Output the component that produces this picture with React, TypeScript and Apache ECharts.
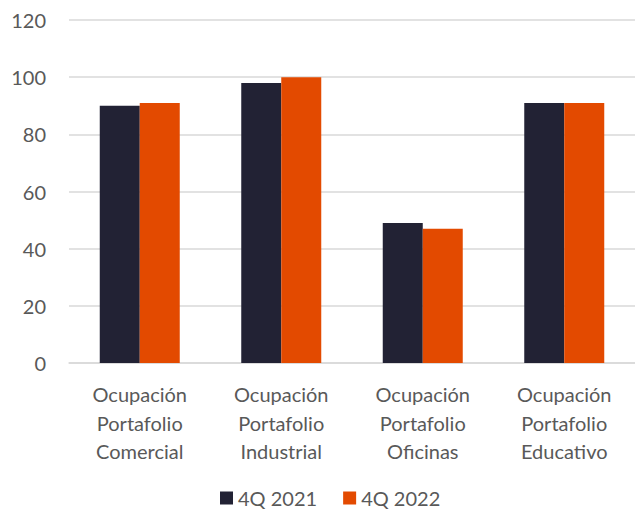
import React, { useEffect, useRef } from "react";
import * as echarts from "echarts";

const categories = [
  "Ocupación\nPortafolio\nComercial",
  "Ocupación\nPortafolio\nIndustrial",
  "Ocupación\nPortafolio\nOficinas",
  "Ocupación\nPortafolio\nEducativo",
];
const series2021 = [90, 98, 49, 91];
const series2022 = [91, 100, 47, 91];
const seriesNames = ["4Q 2021", "4Q 2022"];

export default function App() {
  const ref = useRef<HTMLDivElement>(null);
  useEffect(() => {
    document.body.style.margin = "0";
    if (!ref.current) return;
    const chart = echarts.init(ref.current, undefined, { renderer: "svg" });
    const font = "Lato, 'Open Sans', sans-serif";
    chart.setOption({
      animation: false,
      textStyle: { fontFamily: font },
      legend: {
        top: 488,
        left: 220,
        padding: 0,
        itemWidth: 13,
        itemHeight: 13,
        itemGap: 26,
        icon: "rect",
        textStyle: { fontSize: 20, lineHeight: 20, color: "#595959", fontFamily: font },
        data: seriesNames,
      },
      grid: { left: 69, right: 0, top: 20, bottom: 150 },
      xAxis: {
        type: "category",
        data: categories,
        axisLine: { show: true, lineStyle: { color: "#d9d9d9", width: 1.5 } },
        axisTick: { show: false },
        axisLabel: {
          fontSize: 20,
          color: "#595959",
          lineHeight: 28.5,
          margin: 17,
          interval: 0,
          fontFamily: font,
        },
      },
      yAxis: {
        type: "value",
        min: 0,
        max: 120,
        interval: 20,
        axisLine: { show: false },
        axisTick: { show: false },
        splitLine: { lineStyle: { color: "#d9d9d9", width: 1.5 } },
        axisLabel: { fontSize: 20, color: "#595959", margin: 23, fontFamily: font },
      },
      series: [
        {
          name: seriesNames[0],
          type: "bar",
          data: series2021,
          barWidth: 40,
          barGap: "0%",
          itemStyle: { color: "#222234" },
        },
        {
          name: seriesNames[1],
          type: "bar",
          data: series2022,
          barWidth: 40,
          barGap: "0%",
          itemStyle: { color: "#E34A00" },
        },
      ],
    });
    return () => chart.dispose();
  }, []);
  return <div ref={ref} style={{ width: 635, height: 513 }} />;
}
